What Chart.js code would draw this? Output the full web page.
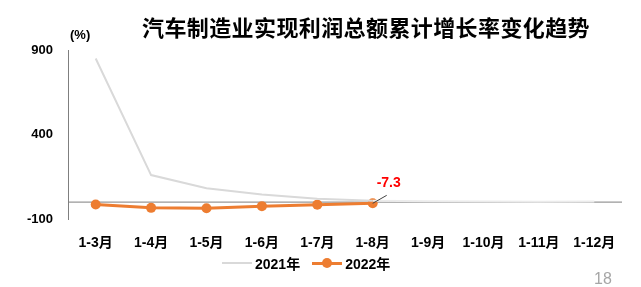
<!DOCTYPE html>
<html>
<head>
<meta charset="utf-8">
<script src="https://cdn.jsdelivr.net/npm/chart.js@4/dist/chart.umd.min.js"></script>
<style>
  html, body { margin: 0; padding: 0; background: #fff; }
  .wrap { position: relative; width: 641px; height: 287px; font-family: "Liberation Sans", "Noto Sans CJK SC", sans-serif; }
  canvas { position: absolute; left: 0; top: 0; }
  .title { position: absolute; left: 0; width: 732px; top: 10px; text-align: center; font: bold 22px "Noto Sans CJK SC", sans-serif; color: #000; letter-spacing: 0.4px; }
  .unit { position: absolute; left: 70px; top: 27px; font: bold 13px "Liberation Sans", sans-serif; color: #000; }
  .legend { position: absolute; left: 222px; top: 253px; display: flex; align-items: center; font: bold 14px "Liberation Sans", "Noto Sans CJK SC", sans-serif; color: #000; }
  .legend .ln { display: inline-block; width: 30px; height: 2px; position: relative; margin-right: 3px; }
  .legend .dot { position: absolute; left: 10px; top: -4px; width: 10px; height: 10px; border-radius: 50%; background: #ed7d31; }
  .page { position: absolute; left: 594px; top: 270px; font: 16px "Liberation Sans", sans-serif; color: #a6a6a6; }
</style>
</head>
<body>
<div class="wrap">
  <canvas id="chart" width="641" height="287"></canvas>
  <div class="title">汽车制造业实现利润总额累计增长率变化趋势</div>
  <div class="unit">(%)</div>
  <div class="legend">
    <span class="ln" style="background:#d9d9d9"></span><span>2021年</span>
    <span class="ln" style="background:#ed7d31;height:3px;margin-left:12px"><span class="dot"></span></span><span>2022年</span>
  </div>
  <div class="page">18</div>
</div>
<script>
const months = ['1-3月', '1-4月', '1-5月', '1-6月', '1-7月', '1-8月', '1-9月', '1-10月', '1-11月', '1-12月'];
const growth2021 = [850, 160, 82, 45, 20, 8, 5, 3, 2, 3];
const growth2022 = [-14, -34, -36, -24, -15, -7.3];
const yTicks = [-100, 400, 900];

// zero line + value tag for the last 2022 point
const extras = {
  id: 'extras',
  beforeDatasetsDraw(chart) {
    const { ctx, chartArea, scales } = chart;
    const y0 = scales.y.getPixelForValue(0);
    ctx.save();
    ctx.strokeStyle = '#7f7f7f';
    ctx.lineWidth = 1;
    ctx.beginPath();
    ctx.moveTo(chartArea.left, y0);
    ctx.lineTo(chartArea.right, y0);
    ctx.stroke();
    ctx.restore();
  },
  afterDatasetsDraw(chart) {
    const { ctx, scales } = chart;
    const last = growth2022.length - 1;
    const px = scales.x.getPixelForValue(last);
    const py = scales.y.getPixelForValue(growth2022[last]);
    ctx.save();
    ctx.strokeStyle = '#404040';
    ctx.lineWidth = 1;
    ctx.beginPath();
    ctx.moveTo(px, py);
    ctx.lineTo(px + 14, py - 8);
    ctx.stroke();
    ctx.fillStyle = '#ff0000';
    ctx.font = 'bold 14px "Liberation Sans", sans-serif';
    ctx.textAlign = 'center';
    ctx.textBaseline = 'middle';
    ctx.fillText(growth2022[last], px + 16, py - 20);
    ctx.restore();
  }
};

new Chart(document.getElementById('chart'), {
  type: 'line',
  data: {
    labels: months,
    datasets: [{
      label: '2021年',
      data: growth2021,
      borderColor: '#d9d9d9',
      borderWidth: 2,
      pointRadius: 0,
      tension: 0,
      segment: {
        borderColor: (c) => c.p0DataIndex >= 5 ? '#ebebeb' : '#d9d9d9'
      }
    }, {
      label: '2022年',
      data: growth2022,
      borderColor: '#ed7d31',
      backgroundColor: '#ed7d31',
      borderWidth: 3,
      pointRadius: 5,
      pointBorderWidth: 0,
      tension: 0
    }]
  },
  options: {
    responsive: false,
    animation: false,
    layout: { padding: { left: 0, right: 19, top: 50, bottom: 28 } },
    plugins: {
      legend: { display: false },
      tooltip: { enabled: false }
    },
    scales: {
      x: {
        offset: true,
        grid: { display: false, drawTicks: false },
        border: { display: false },
        ticks: {
          color: '#000',
          padding: 16,
          maxRotation: 0,
          autoSkip: false,
          font: { family: '"Liberation Sans", "Noto Sans CJK SC", sans-serif', size: 14, weight: 'bold' }
        },
        afterFit: (s) => { s.height = 40; }
      },
      y: {
        min: -100,
        max: 900,
        afterBuildTicks: (s) => { s.ticks = yTicks.map(v => ({ value: v })); },
        grid: { display: false, drawTicks: false },
        border: { display: true, color: '#7f7f7f', width: 1 },
        ticks: {
          color: '#000',
          padding: 15,
          font: { family: '"Liberation Sans", sans-serif', size: 13, weight: 'bold' }
        },
        afterFit: (s) => { s.width = 68; }
      }
    }
  },
  plugins: [extras]
});
</script>
</body>
</html>
